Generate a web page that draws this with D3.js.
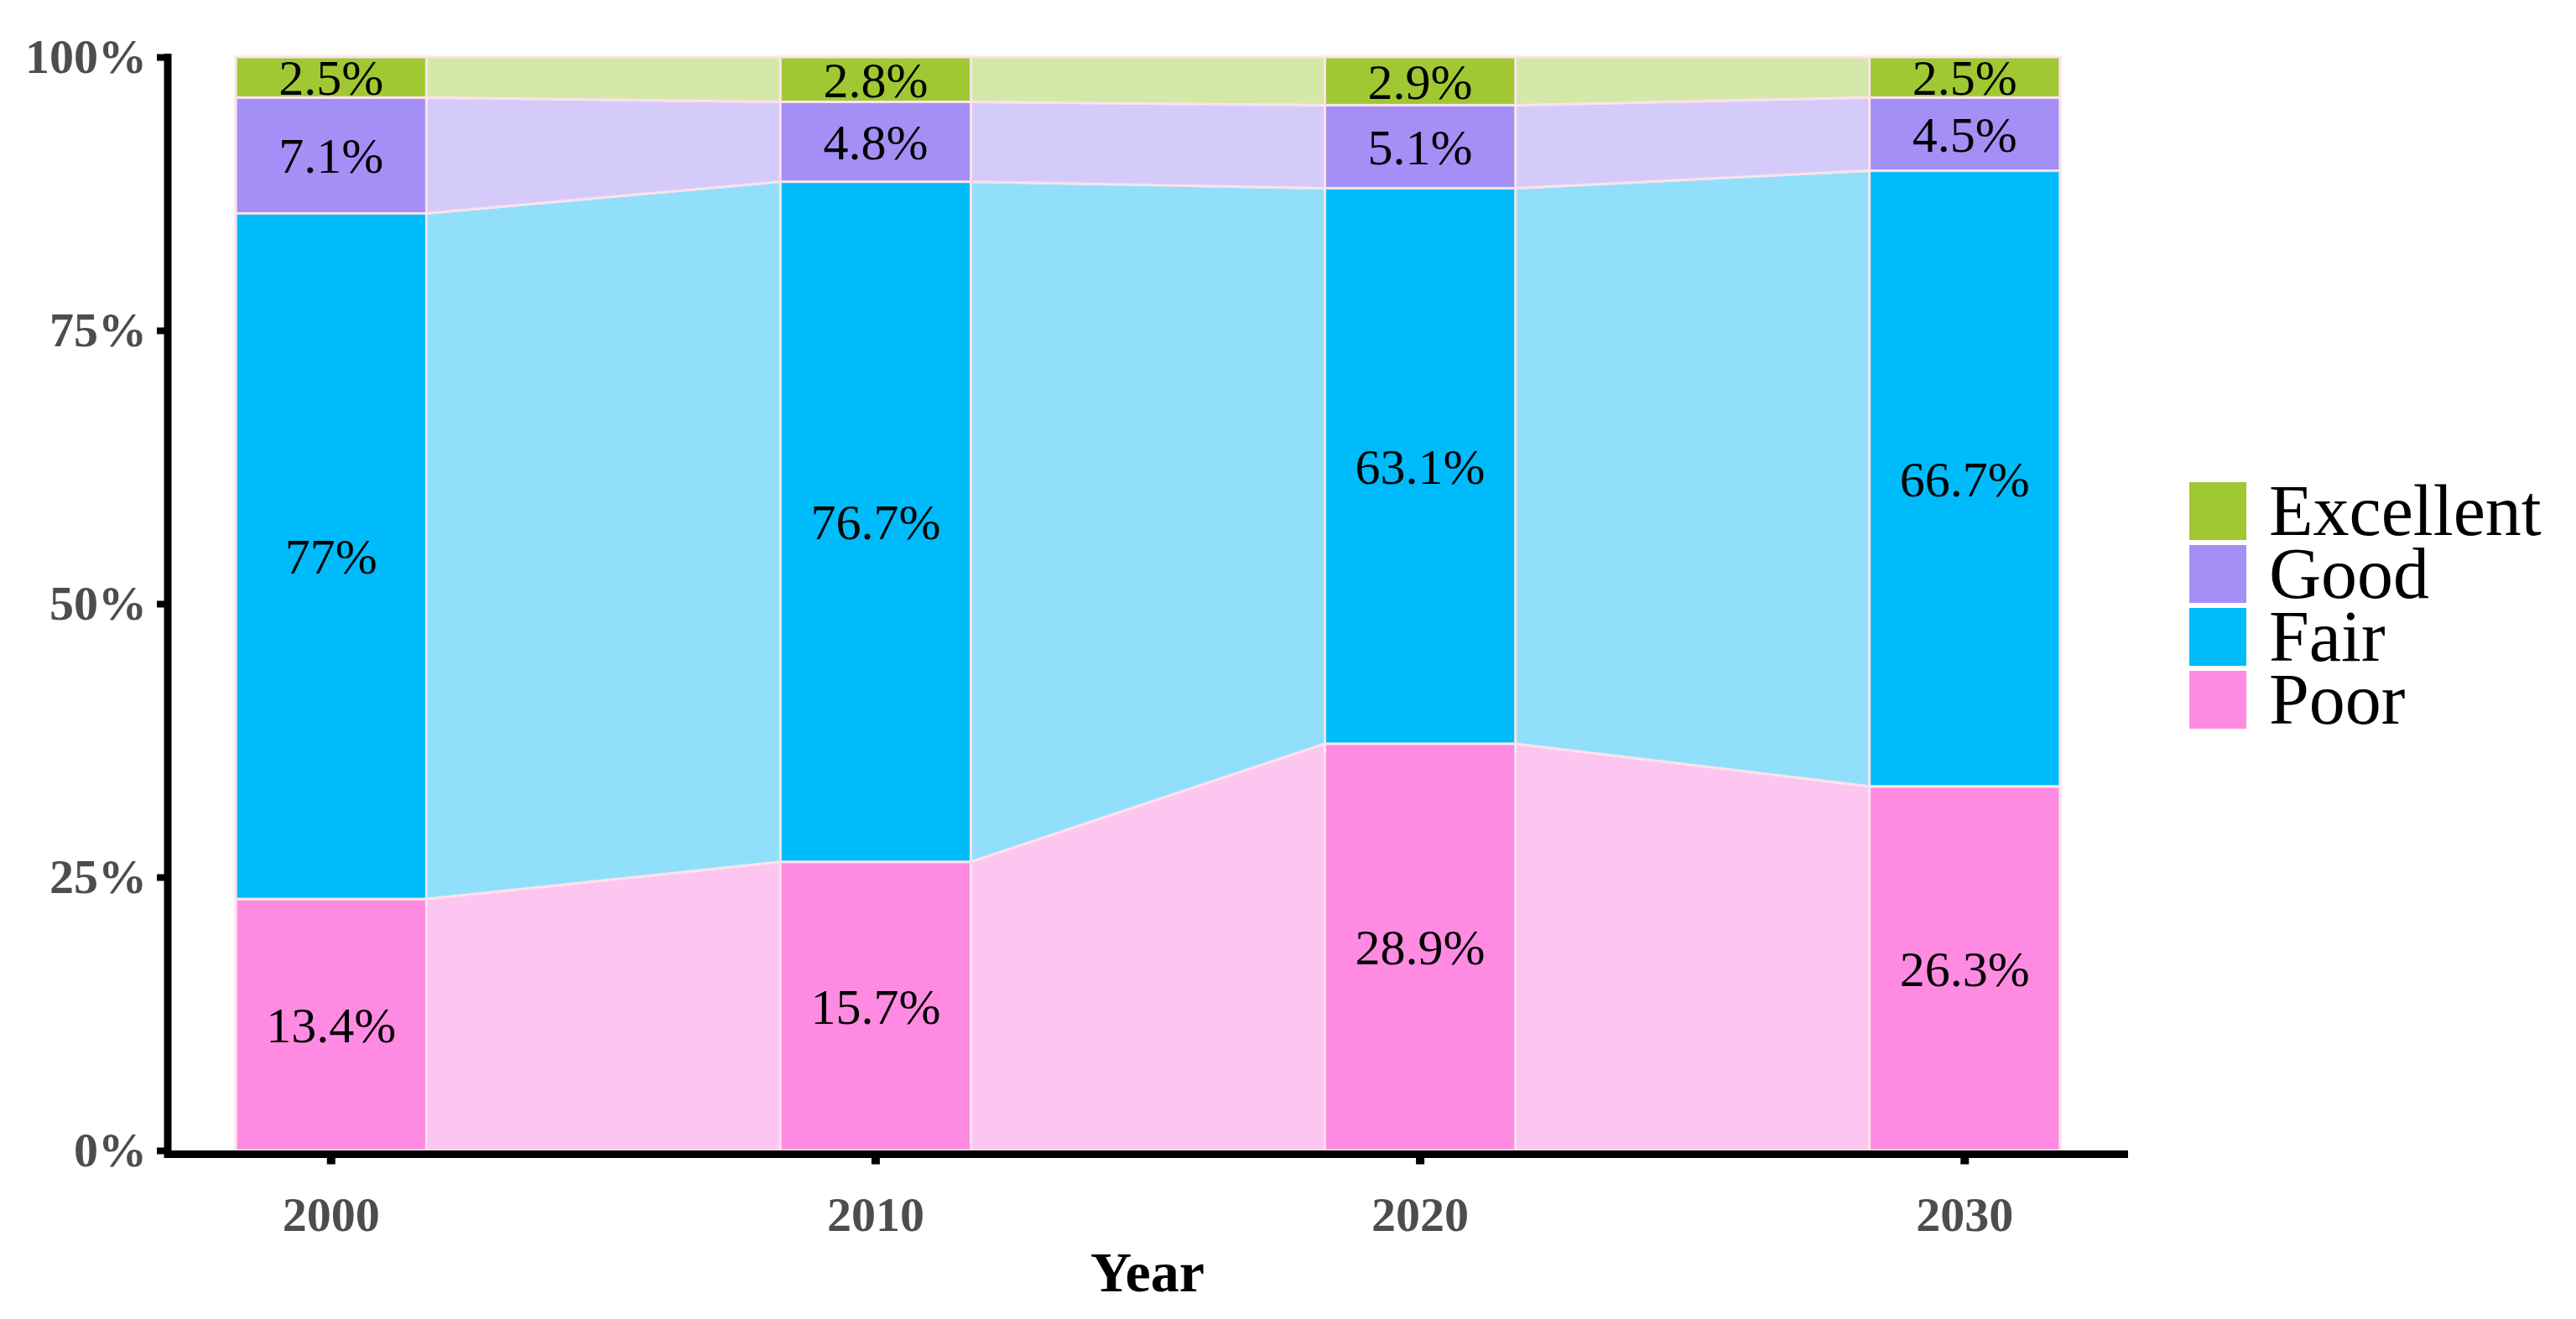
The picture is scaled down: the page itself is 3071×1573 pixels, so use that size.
<!DOCTYPE html>
<html>
<head>
<meta charset="utf-8">
<script src="https://cdn.jsdelivr.net/npm/d3@7"></script>
<style>
  body { margin: 0; background: #fff; }
  svg { display: block; font-family: "Liberation Serif", "Times New Roman", serif; }
</style>
</head>
<body>
<div id="chart"></div>
<script>
// categories along x
var years = ['2000', '2010', '2020', '2030'];
// stack order, bottom to top
var levels = ['Poor', 'Fair', 'Good', 'Excellent'];

// drawn height of each segment (share of the bar, %)
var poorShare      = [23.0, 26.4, 37.2, 33.3];
var fairShare      = [62.7, 62.2, 50.8, 56.3];
var goodShare      = [10.6, 7.3, 7.6, 6.7];
var excellentShare = [3.7, 4.1, 4.4, 3.7];

// printed labels
var poorLabel      = ['13.4%', '15.7%', '28.9%', '26.3%'];
var fairLabel      = ['77%', '76.7%', '63.1%', '66.7%'];
var goodLabel      = ['7.1%', '4.8%', '5.1%', '4.5%'];
var excellentLabel = ['2.5%', '2.8%', '2.9%', '2.5%'];

var yTicks = [0, 25, 50, 75, 100];

var barColor   = {Poor: '#ff8ae2', Fair: '#00bbf9', Good: '#a48ff6', Excellent: '#a0c832'};
var ribbonColor = {Poor: '#fdc6f0', Fair: '#92dffc', Good: '#d5cbfa', Excellent: '#d5e8a9'};

var shares = {Poor: poorShare, Fair: fairShare, Good: goodShare, Excellent: excellentShare};
var labels = {Poor: poorLabel, Fair: fairLabel, Good: goodLabel, Excellent: excellentLabel};

var W = 3071, H = 1573;
var svg = d3.select('#chart').append('svg').attr('width', W).attr('height', H);
svg.append('rect').attr('width', W).attr('height', H).attr('fill', '#fff');

var x = d3.scaleBand().domain(years).range([200, 2537]).paddingInner(0.65).paddingOuter(0.125);
var y = d3.scaleLinear().domain([0, 100]).range([1372, 68]);
var bw = x.bandwidth();

var table = years.map(function(yr, i) {
  var row = {year: yr};
  levels.forEach(function(l) { row[l] = shares[l][i]; });
  return row;
});
var series = d3.stack().keys(levels)(table);

// ribbons behind the bars
var area = d3.area()
  .x(function(d) { return d.x; })
  .y0(function(d) { return y(d.v[0]); })
  .y1(function(d) { return y(d.v[1]); });

svg.append('g').selectAll('path').data(series).join('path')
  .attr('d', function(s) {
    var pts = [];
    s.forEach(function(v) {
      var x0 = x(v.data.year);
      pts.push({x: x0, v: v}, {x: x0 + bw, v: v});
    });
    return area(pts);
  })
  .attr('fill', function(s) { return ribbonColor[s.key]; })
  .attr('stroke', '#fbe3ec').attr('stroke-width', 3);

// bars
var bars = svg.append('g').selectAll('g').data(series).join('g')
  .attr('fill', function(s) { return barColor[s.key]; });
bars.selectAll('rect').data(function(s) { return s; }).join('rect')
  .attr('x', function(d) { return x(d.data.year); })
  .attr('y', function(d) { return y(d[1]); })
  .attr('width', bw)
  .attr('height', function(d) { return y(d[0]) - y(d[1]); })
  .attr('stroke', '#fbe3ec').attr('stroke-width', 3);

// segment labels
var lab = svg.append('g').attr('font-size', 60).attr('fill', '#000').attr('text-anchor', 'middle');
series.forEach(function(s) {
  s.forEach(function(d, i) {
    lab.append('text')
      .attr('x', x(d.data.year) + bw / 2)
      .attr('y', (y(d[0]) + y(d[1])) / 2)
      .attr('dy', '0.35em')
      .text(labels[s.key][i]);
  });
});

// axes
var xAxis = svg.append('g').attr('transform', 'translate(0,1376.5)')
  .call(d3.axisBottom(x).tickSize(12).tickPadding(38));
xAxis.select('.domain').attr('stroke', '#000').attr('stroke-width', 9).attr('d', 'M196,0H2537');
xAxis.selectAll('.tick line').attr('stroke', '#000').attr('stroke-width', 10);
xAxis.selectAll('.tick text').attr('font-size', 58).attr('font-weight', 'bold')
  .attr('fill', '#4d4d4d').attr('font-family', '"Liberation Serif", serif');

var yAxis = svg.append('g').attr('transform', 'translate(200,0)')
  .call(d3.axisLeft(y).tickValues(yTicks).tickFormat(function(d) { return d + '%'; })
    .tickSize(13).tickPadding(12));
yAxis.select('.domain').attr('stroke', '#000').attr('stroke-width', 9).attr('d', 'M0,64V1381');
yAxis.selectAll('.tick line').attr('stroke', '#000').attr('stroke-width', 8);
yAxis.selectAll('.tick text').attr('font-size', 58).attr('font-weight', 'bold')
  .attr('fill', '#4d4d4d').attr('font-family', '"Liberation Serif", serif');

svg.append('text').attr('x', 1368).attr('y', 1540).attr('text-anchor', 'middle')
  .attr('font-size', 68).attr('font-weight', 'bold').attr('fill', '#000').text('Year');

// legend, top to bottom
var legendOrder = levels.slice().reverse();
var leg = svg.append('g').selectAll('g').data(legendOrder).join('g')
  .attr('transform', function(d, i) { return 'translate(2610,' + (575 + i * 75) + ')'; });
leg.append('rect').attr('width', 68).attr('height', 69)
  .attr('fill', function(d) { return barColor[d]; });
leg.append('text').attr('x', 95).attr('y', 63).attr('font-size', 86).attr('fill', '#000')
  .text(function(d) { return d; });
</script>
</body>
</html>
